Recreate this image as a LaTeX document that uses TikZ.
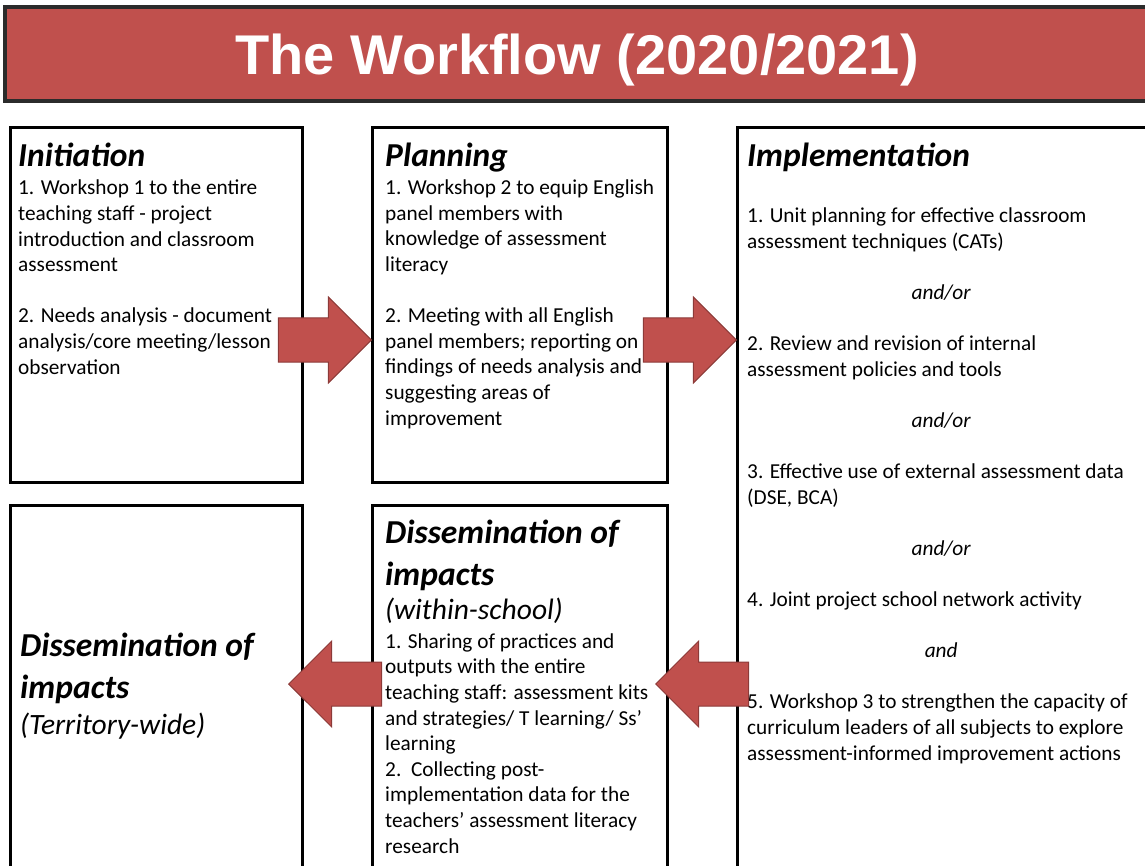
\documentclass[tikz,border=0pt]{standalone}
\usepackage{fontspec}
\setmainfont{Carlito}
\newfontfamily\titlefont{Liberation Sans}
\usetikzlibrary{shapes.arrows}

\definecolor{barred}{HTML}{C0504D}
\definecolor{arrowedge}{HTML}{8C3A38}
\definecolor{bardark}{HTML}{2B2B2B}

\newcommand{\bodyfont}{\fontsize{21.3}{25.6}\selectfont}
\newcommand{\headfont}{\fontsize{33.5}{41.5}\selectfont\bfseries\itshape}
\newcommand{\subfont}{\fontsize{29.5}{36}\selectfont\itshape}
\newcommand{\andor}[1]{\makebox[388pt]{\textit{#1}}}

\begin{document}
\begin{tikzpicture}[x=1pt,y=-1pt,
    titlebar/.style={fill=barred, draw=bardark, line width=4pt, text=white,
        minimum width=1144pt, minimum height=94pt, text height=42pt, text depth=0pt,
        font=\titlefont\bfseries\fontsize{56}{60}\selectfont},
    panel/.style={draw, line width=3pt, anchor=north west, inner sep=0pt, outer sep=0pt},
    head/.style={font=\headfont, align=left, anchor=base west, inner sep=0pt},
    sub/.style={font=\subfont, anchor=base west, inner sep=0pt},
    body/.style={font=\bodyfont, align=left, anchor=base west, inner sep=0pt},
    bigarrow/.style={single arrow, draw=arrowedge, line width=1pt, fill=barred,
        inner xsep=0pt, inner ysep=21.5pt, single arrow head extend=21pt,
        minimum height=93pt, anchor=tip}]
    \useasboundingbox (0,0) rectangle (1145,866);
    \clip (0,0) rectangle (1145,866);

    % title bar
    \node[titlebar] (title) at (577,54) {The Workflow (2020/2021)};

    % the five stages
    \node[panel, minimum width=292pt, minimum height=354pt] (init) at (10,128) {};
    \node[panel, minimum width=295pt, minimum height=354pt] (plan) at (372,128) {};
    \node[panel, minimum width=440pt, minimum height=760pt] (impl) at (737,128) {};
    \node[panel, minimum width=292pt, minimum height=380pt] (wide) at (10,505) {};
    \node[panel, minimum width=295pt, minimum height=380pt] (school) at (372,505) {};

    % text blocks sit on the baseline of their last line
    \node[head] (init_h) at (18,167) {Initiation};
    \node[body] (init_b) at (18,374) {1. Workshop 1 to the entire\\
        teaching staff - project\\
        introduction and classroom\\
        assessment\\[\baselineskip]
        2. Needs analysis - document\\
        analysis/core meeting/lesson\\
        observation};

    \node[head] (plan_h) at (385,167) {Planning};
    \node[body] (plan_b) at (385,425) {1. Workshop 2 to equip English\\
        panel members with\\
        knowledge of assessment\\
        literacy\\[\baselineskip]
        2. Meeting with all English\\
        panel members; reporting on\\
        findings of needs analysis and\\
        suggesting areas of\\
        improvement};

    \node[head] (impl_h) at (747,167) {Implementation};
    \node[body] (impl_b) at (747,760) {1. Unit planning for effective classroom\\
        assessment techniques (CATs)\\[\baselineskip]
        \andor{and/or}\\[\baselineskip]
        2. Review and revision of internal\\
        assessment policies and tools\\[\baselineskip]
        \andor{and/or}\\[\baselineskip]
        3. Effective use of external assessment data\\
        (DSE, BCA)\\[\baselineskip]
        \andor{and/or}\\[\baselineskip]
        4. Joint project school network activity\\[\baselineskip]
        \andor{and}\\[\baselineskip]
        5. Workshop 3 to strengthen the capacity of\\
        curriculum leaders of all subjects to explore\\
        assessment-informed improvement actions};

    \node[head] (school_h) at (385,585) {Dissemination of\\impacts};
    \node[sub] (school_s) at (385,619) {(within-school)};
    \node[body] (school_b) at (385,853) {1. Sharing of practices and\\
        outputs with the entire\\
        teaching staff: assessment kits\\
        and strategies/ T learning/ Ss’\\
        learning\\
        2.\ \ Collecting post-\\
        implementation data for the\\
        teachers’ assessment literacy\\
        research};

    \node[head] (wide_h) at (20,698) {Dissemination of\\impacts};
    \node[sub] (wide_s) at (20,734) {(Territory-wide)};

    % block arrows
    \node[bigarrow] (a_plan) at (plan.west |- 0,340) {};
    \node[bigarrow] (a_impl) at (impl.west |- 0,340) {};
    \node[bigarrow, shape border rotate=180] (a_school) at ([xshift=-12pt]school.east |- 0,684) {};
    \node[bigarrow, shape border rotate=180] (a_wide) at ([xshift=-14pt]wide.east |- 0,684) {};
\end{tikzpicture}
\end{document}
